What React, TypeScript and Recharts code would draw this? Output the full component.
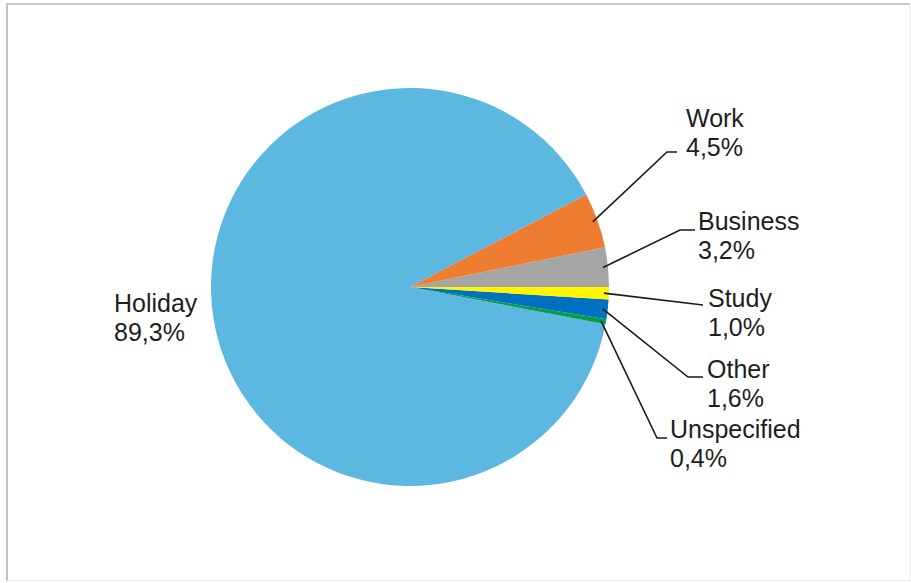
import React from 'react';
import { PieChart, Pie, Cell } from 'recharts';

const categories = ['Business', 'Work', 'Holiday', 'Unspecified', 'Other', 'Study'];
const shares = [3.2, 4.5, 89.3, 0.4, 1.6, 1.0];
const colors = ['#A5A5A5', '#EE7D31', '#5CB8E1', '#00A04B', '#0071C0', '#FFF500'];

const data = categories.map((name, i) => ({ name, value: shares[i] }));

// label layout offsets relative to the pie centre: text x, first baseline, elbow, line end
const labelLayout: Record<string, { tx: number; ty: number; ex?: number; ey?: number; lx?: number }> = {
  Work: { tx: 276, ty: -160, ex: 257, ey: -135, lx: 267 },
  Business: { tx: 288, ty: -57, ex: 270, ey: -57, lx: 285 },
  Study: { tx: 298, ty: 20, ex: 293, ey: 18, lx: 293 },
  Other: { tx: 297, ty: 91, ex: 278, ey: 90, lx: 293 },
  Unspecified: { tx: 260, ty: 151, ex: 247, ey: 151, lx: 257 },
  Holiday: { tx: -296, ty: 25 },
};

const RAD = Math.PI / 180;

const renderLabel = (props: any) => {
  const { cx, cy, midAngle, outerRadius, index } = props;
  const name = categories[index];
  const value = shares[index];
  const lay = labelLayout[name];
  const pct = value.toFixed(1).replace('.', ',') + '%';
  const sr = outerRadius - 5;
  const sx = cx + sr * Math.cos(-midAngle * RAD);
  const sy = cy + sr * Math.sin(-midAngle * RAD);
  return (
    <g key={name}>
      {lay.ex !== undefined && (
        <polyline
          points={`${sx},${sy} ${cx + lay.ex},${cy + (lay.ey as number)} ${cx + (lay.lx as number)},${cy + (lay.ey as number)}`}
          fill="none"
          stroke="#1a1a1a"
          strokeWidth={1.6}
        />
      )}
      <text x={cx + lay.tx} y={cy + lay.ty} fill="#1e1e1e" fontSize={25} fontFamily="Liberation Sans, Arial, sans-serif">
        {name}
      </text>
      <text x={cx + lay.tx} y={cy + lay.ty + 29} fill="#1e1e1e" fontSize={25} fontFamily="Liberation Sans, Arial, sans-serif">
        {pct}
      </text>
    </g>
  );
};

export default function App() {
  return (
    <div style={{ position: 'absolute', left: 0, top: 0, width: 911, height: 583, background: '#fff' }}>
      <div
        style={{
          position: 'absolute',
          left: 6,
          top: 3,
          width: 901,
          height: 575,
          borderLeft: '2px solid #c2c2c2',
          borderTop: '2px solid #c6c6c6',
          borderRight: '1px solid #ebebeb',
          borderBottom: '1px solid #ebebeb',
        }}
      />
      <div style={{ position: 'absolute', left: 0, top: 0 }}>
        <PieChart width={911} height={583} margin={{ top: 0, right: 0, bottom: 0, left: 0 }}>
          <Pie
            data={data}
            dataKey="value"
            nameKey="name"
            cx={410}
            cy={287}
            outerRadius={199}
            startAngle={0}
            endAngle={360}
            stroke="none"
            labelLine={false}
            label={renderLabel}
            isAnimationActive={false}
          >
            {data.map((d, i) => (
              <Cell key={d.name} fill={colors[i]} />
            ))}
          </Pie>
        </PieChart>
      </div>
    </div>
  );
}
